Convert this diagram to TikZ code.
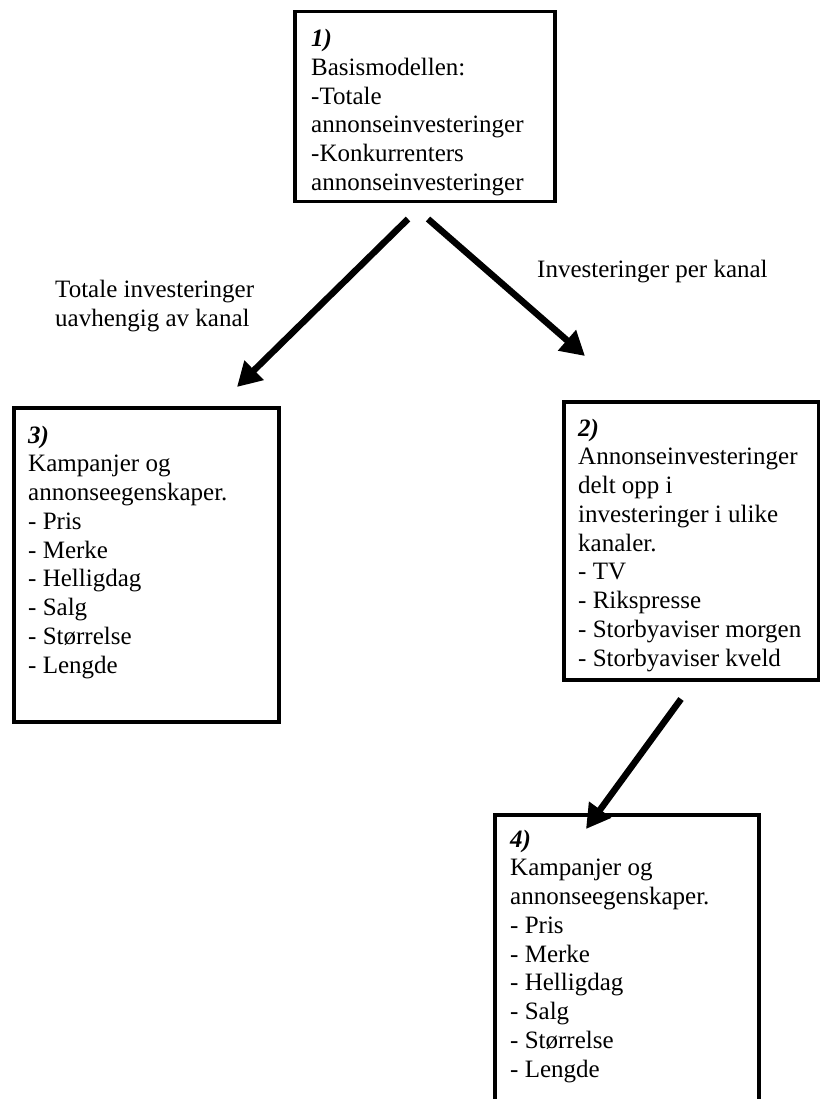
\documentclass[tikz,border=0pt]{standalone}
\usepackage{fontspec}
\setmainfont{Liberation Serif}
\usetikzlibrary{arrows.meta}
\begin{document}
\begin{tikzpicture}[x=1pt,y=-1pt,
  box/.style={draw=black,line width=3.5pt,anchor=north west,inner sep=0pt},
  txt/.style={anchor=base west,inner sep=0pt,align=left,font=\fontsize{25}{28.75}\selectfont},
  lbl/.style={anchor=base west,inner sep=0pt,align=left,font=\fontsize{25}{28.75}\selectfont},
  arr/.style={line width=6.5pt,-{Triangle[length=24pt,width=26pt]}}]
\useasboundingbox (0,0) rectangle (819,1099);
% boxes
\node[box,minimum width=260pt,minimum height=190pt] (b1) at (293,10) {};
\node[box,minimum width=265pt,minimum height=314pt] (b3) at (12,406) {};
\node[box,minimum width=255pt,minimum height=278pt] (b2) at (562,400) {};
\node[box,minimum width=264pt,minimum height=300pt] (b4) at (493,813) {};
% texts (anchored at the baseline of their last line)
\node[txt] (t1) at (311,190.5) {\textbf{\textit{1)}}\\Basismodellen:\\-Totale\\annonseinvesteringer\\-Konkurrenters\\annonseinvesteringer};
\node[txt] (t3) at (28,673) {\textbf{\textit{3)}}\\Kampanjer og\\annonseegenskaper.\\- Pris\\- Merke\\- Helligdag\\- Salg\\- Størrelse\\- Lengde};
\node[txt] (t2) at (578,666) {\textbf{\textit{2)}}\\Annonseinvesteringer\\delt opp i\\investeringer i ulike\\kanaler.\\- TV\\- Rikspresse\\- Storbyaviser morgen\\- Storbyaviser kveld};
\node[txt] (t4) at (510,1077) {\textbf{\textit{4)}}\\Kampanjer og\\annonseegenskaper.\\- Pris\\- Merke\\- Helligdag\\- Salg\\- Størrelse\\- Lengde};
% labels
\node[lbl] (l1) at (55,326) {Totale investeringer\\uavhengig av kanal};
\node[lbl] (l2) at (537,277) {Investeringer per kanal};
% arrows
\coordinate (a1s) at (408,219);
\coordinate (a1e) at (237,387);
\coordinate (a2s) at (428,219);
\coordinate (a2e) at (585,356);
\coordinate (a3s) at (681,699);
\coordinate (a3e) at (586,829);
\draw[arr] (a1s) -- (a1e);
\draw[arr] (a2s) -- (a2e);
\draw[arr] (a3s) -- (a3e);
\end{tikzpicture}
\end{document}
